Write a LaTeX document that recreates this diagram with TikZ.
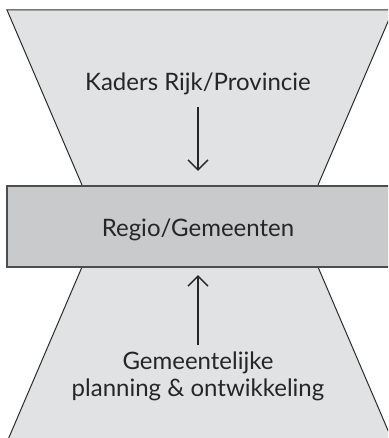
\documentclass[tikz,border=0pt]{standalone}
\usepackage{fontspec}
\setmainfont{Lato}
\usetikzlibrary{arrows.meta, positioning}
\definecolor{funnel}{HTML}{E1E2E3}
\definecolor{band}{HTML}{C9CACB}
\definecolor{edge}{HTML}{2E2E2E}
\definecolor{ink}{HTML}{262626}

\begin{document}
\begin{tikzpicture}[x=1pt, y=-1pt, >={Straight Barb[length=10pt, width=20pt]}]
\tikzset{
  label/.style={text=ink, inner sep=0pt, font=\fontsize{24}{27}\selectfont},
  flow/.style={->, ink, line width=1.3pt},
}
\useasboundingbox (0,0) rectangle (388,438);
\clip (0,0) rectangle (388,438);

% --- Top funnel ---
\fill[funnel] (7,10) -- (393,10) -- (318,185) -- (82,185) -- cycle;
\draw[edge, line width=1pt] (82,185) -- (7,10) -- (393,10) -- (318,185);

% --- Bottom funnel ---
\fill[funnel] (82,267) -- (318,267) -- (393,442) -- (7,442) -- cycle;
\draw[edge, line width=1pt] (82,267) -- (7,442);
\draw[edge, line width=1pt] (318,267) -- (393,442);

% --- Band ---
\filldraw[fill=band, draw=edge!85, line width=1.3pt] (7,186) rectangle (400,267);

% Labels
\node[label] (kaders) at (198,84) {Kaders Rijk/Provincie};
\node[label] (regio) at (198,230) {Regio/Gemeenten};
\node[label, align=center] (planning) at (198,376) {Gemeentelijke\\planning \& ontwikkeling};

% Arrows
\draw[flow, shorten <=12pt, shorten >=48pt] (kaders.south) -- (regio.north);
\draw[flow, shorten <=6pt, shorten >=34pt] (planning.north) -- (regio.south);

\end{tikzpicture}
\end{document}
